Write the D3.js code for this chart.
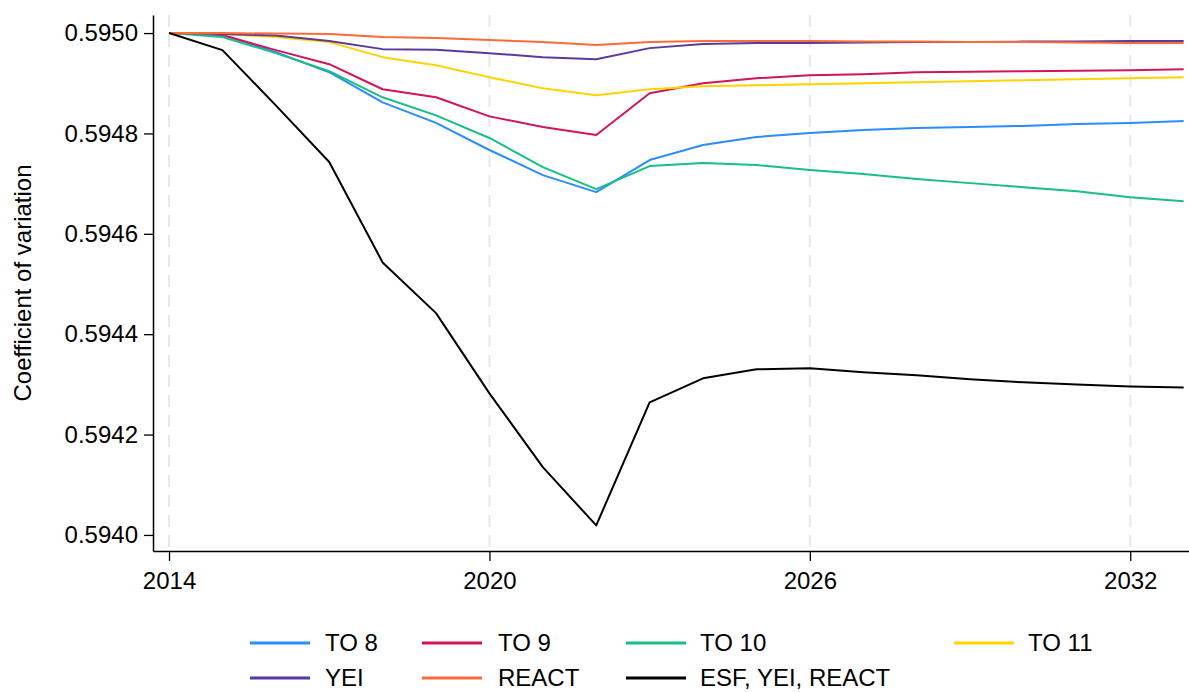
<!DOCTYPE html>
<html>
<head>
<meta charset="utf-8">
<script src="https://cdn.jsdelivr.net/npm/d3@7"></script>
<style>
  body { margin: 0; background: #fff; }
  svg { display: block; font-family: "Liberation Sans", Arial, sans-serif; }
</style>
</head>
<body>
<div id="chart"></div>
<script>
// years on the x axis
var years = [2014, 2015, 2016, 2017, 2018, 2019, 2020, 2021, 2022, 2023,
             2024, 2025, 2026, 2027, 2028, 2029, 2030, 2031, 2032, 2033];

// coefficient of variation per scenario
var to8 = [0.595000, 0.594996, 0.594962, 0.594922, 0.594862, 0.594821, 0.594767, 0.594717, 0.594683, 0.594747,
           0.594777, 0.594793, 0.594801, 0.594807, 0.594811, 0.594813, 0.594815, 0.594819, 0.594821, 0.594825];
var to9 = [0.595000, 0.594996, 0.594966, 0.594938, 0.594888, 0.594872, 0.594834, 0.594813, 0.594797, 0.594880,
           0.594900, 0.594910, 0.594916, 0.594918, 0.594922, 0.594923, 0.594924, 0.594925, 0.594926, 0.594928];
var to10 = [0.595000, 0.594992, 0.594960, 0.594924, 0.594872, 0.594836, 0.594791, 0.594733, 0.594689, 0.594735,
            0.594741, 0.594737, 0.594727, 0.594719, 0.594709, 0.594701, 0.594693, 0.594685, 0.594673, 0.594665];
var to11 = [0.595000, 0.594998, 0.594992, 0.594982, 0.594952, 0.594936, 0.594912, 0.594890, 0.594876, 0.594888,
            0.594894, 0.594896, 0.594898, 0.594900, 0.594902, 0.594904, 0.594906, 0.594908, 0.594910, 0.594912];
var yei = [0.595000, 0.594998, 0.594995, 0.594984, 0.594968, 0.594967, 0.594960, 0.594952, 0.594948, 0.594970,
           0.594978, 0.594980, 0.594980, 0.594981, 0.594982, 0.594982, 0.594983, 0.594983, 0.594984, 0.594984];
var react = [0.595000, 0.595000, 0.594999, 0.594998, 0.594992, 0.594990, 0.594986, 0.594982, 0.594976, 0.594982,
             0.594984, 0.594984, 0.594984, 0.594983, 0.594983, 0.594982, 0.594982, 0.594981, 0.594980, 0.594980];
var esfAll = [0.595000, 0.594966, 0.594856, 0.594743, 0.594543, 0.594442, 0.594282, 0.594135, 0.594019, 0.594264,
              0.594312, 0.594330, 0.594332, 0.594324, 0.594318, 0.594310, 0.594304, 0.594300, 0.594296, 0.594294];

var seriesNames = ['TO 8', 'TO 9', 'TO 10', 'TO 11', 'YEI', 'REACT', 'ESF, YEI, REACT'];
var seriesValues = [to8, to9, to10, to11, yei, react, esfAll];
var seriesColors = ['#2b8cff', '#d4145a', '#17bf84', '#ffd400', '#5a3a9c', '#ff6a3a', '#000000'];

var xTicks = [2014, 2020, 2026, 2032];
var yTicks = [0.5940, 0.5942, 0.5944, 0.5946, 0.5948, 0.5950];

var W = 1189, H = 692,
    margin = {top: 15, right: 0, bottom: 141, left: 153},
    innerW = W - margin.left - margin.right,
    innerH = H - margin.top - margin.bottom;

var svg = d3.select('#chart').append('svg').attr('width', W).attr('height', H);
var g = svg.append('g').attr('transform', 'translate(' + margin.left + ',' + margin.top + ')');

var x = d3.scaleLinear().domain([2013.7, 2033.1]).range([0, innerW]);
var y = d3.scaleLinear().domain([0.593968, 0.595036]).range([innerH, 0]);

// dashed vertical grid
g.selectAll('line.grid').data(xTicks).enter().append('line')
    .attr('class', 'grid')
    .attr('x1', function(d) { return x(d); })
    .attr('x2', function(d) { return x(d); })
    .attr('y1', 0).attr('y2', innerH)
    .attr('stroke', '#e8e8e8').attr('stroke-width', 2)
    .attr('stroke-dasharray', '12,8');

// lines
var line = d3.line()
    .x(function(d, i) { return x(years[i]); })
    .y(function(d) { return y(d); });

g.selectAll('path.series').data(seriesValues).enter().append('path')
    .attr('class', 'series')
    .attr('fill', 'none')
    .attr('stroke', function(d, i) { return seriesColors[i]; })
    .attr('stroke-width', 2)
    .attr('stroke-linejoin', 'round')
    .attr('d', line);

// axes
var xAxis = g.append('g').attr('transform', 'translate(0,' + innerH + ')')
    .call(d3.axisBottom(x).tickValues(xTicks).tickFormat(d3.format('d')).tickSize(10).tickPadding(11).tickSizeOuter(0));
var yAxis = g.append('g')
    .call(d3.axisLeft(y).tickValues(yTicks).tickFormat(d3.format('.4f')).tickSize(9).tickPadding(6).tickSizeOuter(0));

[xAxis, yAxis].forEach(function(a) {
    a.selectAll('text').attr('font-size', 24).attr('fill', '#000').style('font-family', '"Liberation Sans", Arial, sans-serif');
    a.selectAll('line').attr('stroke', '#000').attr('stroke-width', 1.3);
    a.select('.domain').attr('stroke', '#000').attr('stroke-width', 1.5);
});

svg.append('text')
    .attr('transform', 'translate(31,' + (margin.top + innerH / 2) + ') rotate(-90)')
    .attr('text-anchor', 'middle')
    .attr('font-size', 24)
    .text('Coefficient of variation');

// legend
var legCols = [250, 422, 626, 954],
    legTextX = [325, 498, 700, 1028],
    legRows = [643, 678];

var leg = svg.selectAll('g.leg').data(seriesNames).enter().append('g')
    .attr('class', 'leg')
    .attr('transform', function(d, i) {
        return 'translate(0,' + legRows[Math.floor(i / 4)] + ')';
    });
leg.append('line')
    .attr('x1', function(d, i) { return legCols[i % 4]; })
    .attr('x2', function(d, i) { return legCols[i % 4] + 60; })
    .attr('y1', 0).attr('y2', 0)
    .attr('stroke', function(d, i) { return seriesColors[i]; })
    .attr('stroke-width', 3);
leg.append('text')
    .attr('x', function(d, i) { return legTextX[i % 4]; })
    .attr('y', 8)
    .attr('font-size', 24)
    .text(function(d) { return d; });
</script>
</body>
</html>
